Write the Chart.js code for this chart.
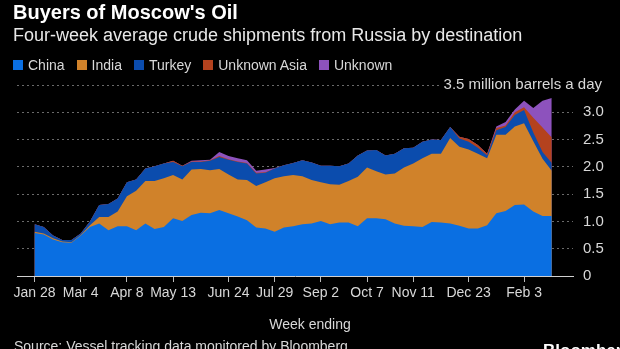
<!DOCTYPE html>
<html>
<head>
<meta charset="utf-8">
<script src="https://cdn.jsdelivr.net/npm/chart.js@4.4.1/dist/chart.umd.min.js"></script>
<style>
  html, body { margin: 0; padding: 0; background: #000; }
  #wrap { position: relative; width: 620px; height: 349px; overflow: hidden; background: #000;
          font-family: "Liberation Sans", Arial, sans-serif; color: #e6e6e6; }
  #c { position: absolute; left: 0; top: 0; }
  .t { position: absolute; white-space: nowrap; }
  #title { left: 13px; top: 1px; font-size: 20px; font-weight: bold; color: #fff; }
  #sub { left: 13px; top: 25px; font-size: 18px; color: #e8e8e8; }
  #legend { left: 13px; top: 57px; font-size: 14px; color: #d8d8d8; display: flex; gap: 12px; }
  #legend span.i { display: flex; align-items: center; }
  #legend span.b { display: inline-block; width: 10px; height: 10px; margin-right: 5px; }
  #xt { left: 0; width: 620px; text-align: center; top: 316px; font-size: 14px; color: #d8d8d8; }
  #src { left: 14px; top: 338px; font-size: 14px; color: #d8d8d8; }
  #logo { left: 543px; top: 341px; font-size: 17px; font-weight: bold; color: #fff; }
</style>
</head>
<body>
<div id="wrap">
  <canvas id="c" width="620" height="349"></canvas>
  <div class="t" id="title">Buyers of Moscow's Oil</div>
  <div class="t" id="sub">Four-week average crude shipments from Russia by destination</div>
  <div class="t" id="legend"></div>
  <div class="t" id="xt">Week ending</div>
  <div class="t" id="src">Source: Vessel tracking data monitored by Bloomberg</div>
  <div class="t" id="logo">Bloomberg</div>
</div>
<script>
// Week-ending dates (Fridays), Jan 28 2022 .. Feb 24 2023
const weeks = ["Jan 28","Feb 4","Feb 11","Feb 18","Feb 25","Mar 4","Mar 11","Mar 18","Mar 25","Apr 1",
  "Apr 8","Apr 15","Apr 22","Apr 29","May 6","May 13","May 20","May 27","Jun 3","Jun 10",
  "Jun 17","Jun 24","Jul 1","Jul 8","Jul 15","Jul 22","Jul 29","Aug 5","Aug 12","Aug 19",
  "Aug 26","Sep 2","Sep 9","Sep 16","Sep 23","Sep 30","Oct 7","Oct 14","Oct 21","Oct 28",
  "Nov 4","Nov 11","Nov 18","Nov 25","Dec 2","Dec 9","Dec 16","Dec 23","Dec 30","Jan 6",
  "Jan 13","Jan 20","Jan 27","Feb 3","Feb 10","Feb 17","Feb 24"];

const tickLabels = ["Jan 28","Mar 4","Apr 8","May 13","Jun 24","Jul 29","Sep 2","Oct 7","Nov 11","Dec 23","Feb 3"];
const yTicks = [0, 0.5, 1.0, 1.5, 2.0, 2.5, 3.0, 3.5];

// million barrels a day, per destination (stacked)
const china = [0.79,0.76,0.67,0.62,0.61,0.74,0.90,0.96,0.84,0.91,
  0.91,0.84,0.96,0.86,0.90,1.06,1.01,1.12,1.16,1.15,
  1.21,1.15,1.09,1.02,0.89,0.87,0.81,0.89,0.91,0.95,
  0.96,1.01,0.95,0.98,0.98,0.91,1.06,1.06,1.04,0.96,
  0.92,0.91,0.90,0.99,0.98,0.96,0.92,0.87,0.87,0.93,
  1.15,1.19,1.30,1.31,1.18,1.10,1.10];
const india = [0.02,0.02,0.02,0.01,0.01,0.01,0.03,0.12,0.24,0.27,
  0.55,0.72,0.78,0.88,0.89,0.79,0.76,0.83,0.80,0.79,
  0.75,0.71,0.68,0.74,0.76,0.85,0.98,0.94,0.94,0.88,
  0.80,0.71,0.73,0.69,0.76,0.91,0.93,0.86,0.82,0.92,
  1.07,1.15,1.26,1.25,1.26,1.57,1.45,1.45,1.37,1.23,
  1.44,1.40,1.44,1.49,1.29,1.05,0.83];
const turkey = [0.14,0.12,0.05,0.03,0.04,0.03,0.07,0.22,0.24,0.24,
  0.26,0.21,0.23,0.27,0.27,0.24,0.24,0.14,0.13,0.17,
  0.22,0.27,0.32,0.30,0.23,0.17,0.18,0.20,0.22,0.29,
  0.32,0.30,0.34,0.34,0.32,0.39,0.31,0.39,0.35,0.36,
  0.35,0.29,0.30,0.26,0.25,0.20,0.15,0.14,0.11,0.05,
  0.08,0.14,0.21,0.24,0.16,0.12,0.14];
const unknownAsia = [0,0,0,0,0,0,0,0,0,0,
  0,0,0,0,0,0.02,0.01,0.01,0.01,0.01,
  0.02,0.01,0.01,0.01,0.01,0.01,0,0,0,0,
  0,0,0,0,0,0,0,0,0,0,
  0,0,0,0,0,0,0.03,0.05,0.05,0.03,
  0.04,0.03,0.05,0.05,0.27,0.45,0.47];
const unknown = [0,0,0,0,0,0,0,0,0,0,
  0,0,0,0,0,0,0,0.01,0.02,0.01,
  0.07,0.06,0.06,0.05,0.04,0.05,0.01,0,0,0,
  0,0,0,0,0,0,0,0,0,0,
  0,0,0,0,0,0,0,0,0,0,
  0.03,0.06,0.05,0.12,0.18,0.49,0.72];

const seriesNames = ["China","India","Turkey","Unknown Asia","Unknown"];
const seriesData = [china, india, turkey, unknownAsia, unknown];
const seriesColors = ["#0a6fe2","#d0822a","#0b4cad","#b4421e","#8d52bd"];

// legend
const lg = document.getElementById('legend');
seriesNames.forEach((n, k) => {
  const s = document.createElement('span'); s.className = 'i';
  s.innerHTML = '<span class="b" style="background:' + seriesColors[k] + '"></span>' + n;
  lg.appendChild(s);
});

const datasets = seriesNames.map((n, k) => ({
  label: n,
  data: seriesData[k].map((v, i) => ({x: i, y: v})),
  backgroundColor: seriesColors[k],
  borderColor: seriesColors[k],
  borderWidth: 0,
  pointRadius: 0,
  tension: 0,
  fill: 'origin'
}));

const topLabel = {
  id: 'topLabel',
  beforeDatasetsDraw(chart) {
    const ctx = chart.ctx, y = chart.scales.y.getPixelForValue(3.5);
    ctx.save();
    ctx.font = '15px "Liberation Sans", Arial, sans-serif';
    ctx.fillStyle = '#d8d8d8';
    ctx.textAlign = 'right';
    ctx.textBaseline = 'middle';
    const txt = '3.5 million barrels a day';
    ctx.fillText(txt, 602, y);
    const w = ctx.measureText(txt).width;
    ctx.strokeStyle = '#6a6a6a';
    ctx.lineWidth = 1;
    ctx.setLineDash([2, 3]);
    ctx.beginPath();
    ctx.moveTo(chart.chartArea.left, Math.round(y) + 0.5);
    ctx.lineTo(602 - w - 4, Math.round(y) + 0.5);
    ctx.stroke();
    ctx.restore();
  }
};

new Chart(document.getElementById('c'), {
  type: 'line',
  data: { datasets },
  plugins: [topLabel],
  options: {
    responsive: false,
    animation: false,
    layout: { padding: { left: 17, top: 85, right: 0, bottom: 43 } },
    plugins: { legend: { display: false }, tooltip: { enabled: false } },
    elements: { line: { borderWidth: 0 } },
    scales: {
      x: {
        type: 'linear',
        min: -1.9, max: 58.3,
        afterFit(s) { s.height = 30; },
        afterBuildTicks(s) { s.ticks = tickLabels.map(l => ({ value: weeks.indexOf(l) })); },
        ticks: {
          autoSkip: false, maxRotation: 0, color: '#d8d8d8', padding: 3,
          font: { family: '"Liberation Sans", Arial, sans-serif', size: 14 },
          callback: (v) => weeks[v]
        },
        grid: { display: true, drawOnChartArea: false, drawTicks: true, tickLength: 6, color: '#bbbbbb' },
        border: { display: true, color: '#d0d0d0', width: 1 }
      },
      y: {
        position: 'right',
        stacked: true,
        min: 0, max: 3.5,
        afterFit(s) { s.width = 47; },
        afterBuildTicks(s) { s.ticks = yTicks.map(v => ({ value: v })); },
        ticks: {
          color: '#d8d8d8', padding: 10,
          font: { family: '"Liberation Sans", Arial, sans-serif', size: 15 },
          callback: (v) => v === 3.5 ? '' : (v === 0 ? '0' : v.toFixed(1))
        },
        grid: {
          drawTicks: false,
          color: (c) => (c.tick && (c.tick.value === 0 || c.tick.value === 3.5)) ? 'rgba(0,0,0,0)' : '#6a6a6a',
          lineWidth: 1
        },
        border: { display: false, dash: [2, 3] }
      }
    }
  }
});
</script>
</body>
</html>
